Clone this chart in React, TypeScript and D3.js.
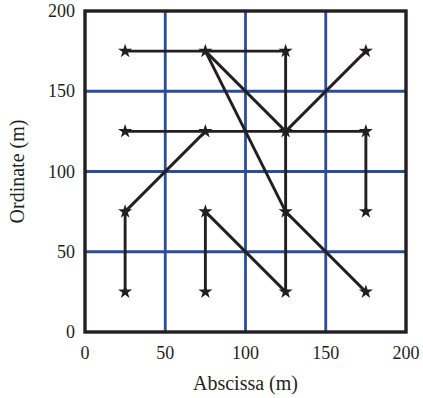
import { useMemo } from 'react';
import * as d3 from 'd3';

const ticks = [0, 50, 100, 150, 200];
const gridValues = [50, 100, 150];
const stations: [number, number][] = [
  [25, 175], [75, 175], [125, 175], [175, 175],
  [25, 125], [75, 125], [125, 125], [175, 125],
  [25, 75], [75, 75], [125, 75], [175, 75],
  [25, 25], [75, 25], [125, 25], [175, 25],
];
const links: [[number, number], [number, number]][] = [
  [[25, 175], [125, 175]],
  [[75, 175], [125, 125]],
  [[75, 175], [125, 75]],
  [[125, 75], [175, 25]],
  [[125, 175], [125, 25]],
  [[175, 175], [125, 125]],
  [[25, 125], [175, 125]],
  [[75, 125], [25, 75]],
  [[25, 75], [25, 25]],
  [[75, 75], [75, 25]],
  [[75, 75], [125, 25]],
  [[175, 125], [175, 75]],
];

const width = 423;
const height = 398;
const margin = { top: 11, right: 17, bottom: 66, left: 85 };
const font = '"Liberation Serif", "DejaVu Serif", serif';
const blue = '#2b4c9b';
const ink = '#231f20';

export default function App() {
  const x = useMemo(() => d3.scaleLinear().domain([0, 200]).range([margin.left, width - margin.right]), []);
  const y = useMemo(() => d3.scaleLinear().domain([0, 200]).range([height - margin.bottom, margin.top]), []);
  const star = d3.symbol().type(d3.symbolStar).size(62)();

  return (
    <svg width={width} height={height} style={{ position: 'absolute', left: 0, top: 0 }}>
      <rect width={width} height={height} fill="#fff" />
      {gridValues.map((v) => (
        <g key={v}>
          <line x1={x(v)} x2={x(v)} y1={y(0)} y2={y(200)} stroke={blue} strokeWidth={2.8} />
          <line x1={x(0)} x2={x(200)} y1={y(v)} y2={y(v)} stroke={blue} strokeWidth={2.8} />
        </g>
      ))}
      {links.map(([a, b], i) => (
        <line key={i} x1={x(a[0])} y1={y(a[1])} x2={x(b[0])} y2={y(b[1])} stroke={ink} strokeWidth={2.9} />
      ))}
      {stations.map(([px, py], i) => (
        <path key={i} d={star!} transform={`translate(${x(px)},${y(py)})`} fill={ink} />
      ))}
      <rect
        x={x(0)}
        y={y(200)}
        width={x(200) - x(0)}
        height={y(0) - y(200)}
        fill="none"
        stroke={ink}
        strokeWidth={3.4}
      />
      {ticks.map((t) => (
        <text key={'x' + t} x={x(t)} y={y(0) + 27} textAnchor="middle" fontFamily={font} fontSize={18} fill={ink}>
          {t}
        </text>
      ))}
      {ticks.map((t) => (
        <text key={'y' + t} x={x(0) - 10} y={y(t) + 6} textAnchor="end" fontFamily={font} fontSize={18} fill={ink}>
          {t}
        </text>
      ))}
      <text x={(x(0) + x(200)) / 2} y={390} textAnchor="middle" fontFamily={font} fontSize={20} fill={ink}>
        Abscissa (m)
      </text>
      <text
        transform={`translate(24,${(y(0) + y(200)) / 2}) rotate(-90)`}
        textAnchor="middle"
        fontFamily={font}
        fontSize={20}
        fill={ink}
      >
        Ordinate (m)
      </text>
    </svg>
  );
}
